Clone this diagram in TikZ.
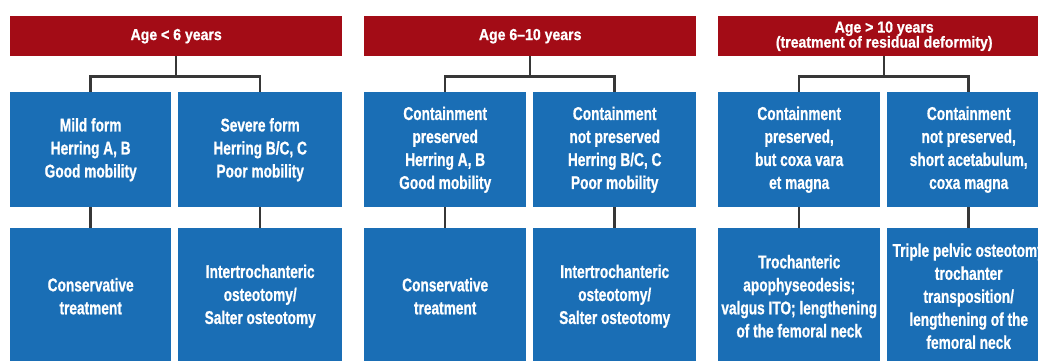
\documentclass[tikz,border=0pt]{standalone}
\usepackage{fontspec}
\setmainfont[FakeStretch=0.74,BoldFeatures={FakeBold=0.8}]{Liberation Sans}
\newfontfamily\hdrfont[FakeStretch=0.88,BoldFeatures={FakeBold=0.8}]{Liberation Sans}
\definecolor{hdrred}{RGB}{163,12,22}
\definecolor{boxblue}{RGB}{26,110,181}
\definecolor{linegray}{RGB}{55,55,55}
\tikzset{
  hdr/.style={fill=hdrred,text=white,minimum width=332pt,minimum height=40pt,inner sep=0pt,anchor=north west,align=center,font=\hdrfont\bfseries\fontsize{16}{15}\selectfont},
  boxbase/.style={fill=boxblue,text=white,inner xsep=1pt,inner ysep=0pt,anchor=north west,align=center,font=\bfseries\fontsize{18.5}{23}\selectfont},
  rowone/.style={boxbase,minimum height=115pt},
  rowtwo/.style={boxbase,minimum height=136pt},
  conn/.style={draw=linegray,line width=2.5pt}
}
\begin{document}
\begin{tikzpicture}[x=1pt,y=-1pt]
\useasboundingbox (0,0) rectangle (1038,361);
\clip (0,0) rectangle (1038,361);
\fill[white] (0,0) rectangle (1038,361);
% headers
\node[hdr] (h1) at (10,16) {Age < 6 years};
\node[hdr] (h2) at (364,16) {Age 6–10 years};
\node[hdr] (h3) at (718,16) {Age > 10 years\\(treatment of residual deformity)};
% column 1
\node[rowone,minimum width=161pt] (a1) at (10,92) {Mild form\\Herring A, B\\Good mobility};
\node[rowone,minimum width=164pt] (b1) at (178,92) {Severe form\\Herring B/C, C\\Poor mobility};
\node[rowtwo,minimum width=161pt] (c1) at (10,228) {Conservative\\treatment};
\node[rowtwo,minimum width=164pt] (d1) at (178,228) {Intertrochanteric\\osteotomy/\\Salter osteotomy};
% column 2
\node[rowone,minimum width=162pt] (a2) at (364,92) {Containment\\preserved\\Herring A, B\\Good mobility};
\node[rowone,minimum width=163pt] (b2) at (533,92) {Containment\\not preserved\\Herring B/C, C\\Poor mobility};
\node[rowtwo,minimum width=162pt] (c2) at (364,228) {Conservative\\treatment};
\node[rowtwo,minimum width=163pt] (d2) at (533,228) {Intertrochanteric\\osteotomy/\\Salter osteotomy};
% column 3
\node[rowone,minimum width=162pt] (a3) at (718,92) {Containment\\preserved,\\but coxa vara\\et magna};
\node[rowone,minimum width=163pt] (b3) at (887,92) {Containment\\not preserved,\\short acetabulum,\\coxa magna};
\node[rowtwo,minimum width=162pt] (c3) at (718,228) {Trochanteric\\apophyseodesis;\\valgus ITO; lengthening\\of the femoral neck};
\node[rowtwo,minimum width=163pt] (d3) at (887,228) {Triple pelvic osteotomy\\trochanter\\transposition/\\lengthening of the\\femoral neck};
% connectors
\foreach \i in {1,2,3}{
  \draw[conn] (h\i.south) -- ++(0,20) -| (a\i.north);
  \draw[conn] (h\i.south) -- ++(0,20) -| (b\i.north);
  \draw[conn] (a\i.south) -- (c\i.north);
  \draw[conn] (b\i.south) -- (d\i.north);
}
\end{tikzpicture}
\end{document}
